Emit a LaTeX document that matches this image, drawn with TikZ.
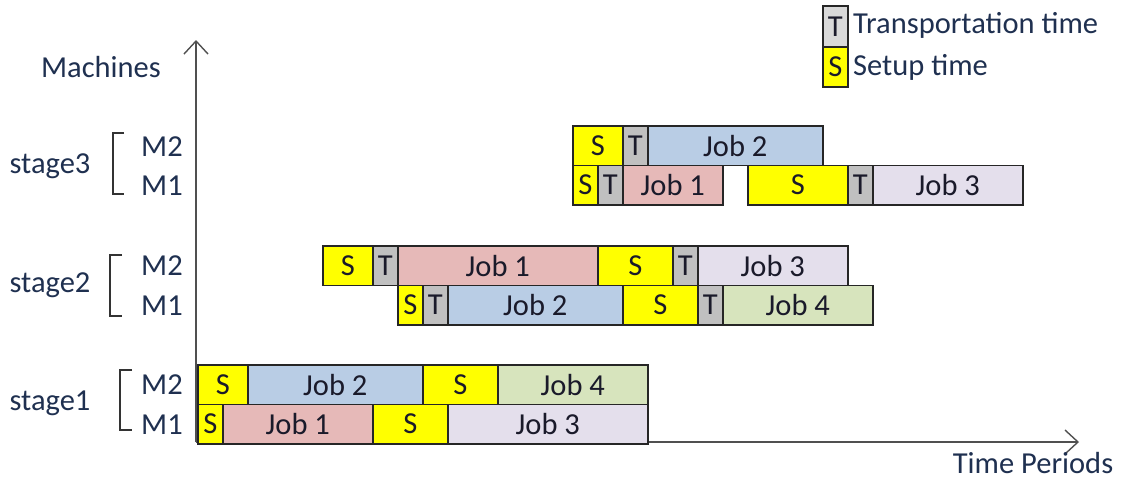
\documentclass[tikz,border=0pt]{standalone}
\usepackage{fontspec}
\setmainfont{Carlito}
\usetikzlibrary{arrows.meta}
\definecolor{sy}{HTML}{FFFF00}
\definecolor{tg}{HTML}{C0C0C0}
\definecolor{tgl}{HTML}{D9D9D9}
\definecolor{jone}{HTML}{E6B9B8}
\definecolor{jtwo}{HTML}{B9CDE5}
\definecolor{jthree}{HTML}{E4DFEC}
\definecolor{jfour}{HTML}{D7E4BD}
\definecolor{lbl}{HTML}{1F3050}
\definecolor{btxt}{HTML}{1A1A2A}
\definecolor{axc}{HTML}{505050}
\tikzset{
  gb/.style={draw=black!85, line width=1.6pt, minimum height=39.5pt, inner sep=0pt,
    anchor=north west, text=btxt, font=\fontsize{30.5}{34}\selectfont},
  sbox/.style={fill=sy},
  tbox/.style={fill=tg},
  jobone/.style={fill=jone},
  jobtwo/.style={fill=jtwo},
  jobthree/.style={fill=jthree},
  jobfour/.style={fill=jfour},
  lab/.style={text=lbl, font=\fontsize{30.5}{34}\selectfont, inner sep=0pt},
  axisline/.style={draw=axc, line width=1.6pt, -{Straight Barb[length=13pt,width=24pt,line width=1.4pt]}},
  brack/.style={draw=black!80, line width=1.4pt}
}
\newcommand{\gbox}[6]{\node[gb,#5,minimum width={(#3-#2)*1pt}] (#1) at (#2,#4) {#6};}
\begin{document}
\begin{tikzpicture}[x=1pt,y=-1pt]
\useasboundingbox (0,0) rectangle (1126,479);
% axes
\coordinate (o) at (196,442);
\coordinate (ytop) at (196,40);
\coordinate (xend) at (1079,442);
\draw[axisline] (o) -- (ytop);
\draw[axisline] (o) -- (xend);
\node[lab] (mach) at (101,67) {Machines};
\node[lab] (tp) at (1033,463) {Time Periods};
% legend
\node[gb,fill=tgl,minimum width=25pt,minimum height=41pt] (legT) at (822,5) {T};
\node[gb,sbox,minimum width=25pt,minimum height=40pt] (legS) at (822,46) {S};
\node[lab,anchor=west] (legTt) at (853,25) {Transportation time};
\node[lab,anchor=west] (legSt) at (853,67) {Setup time};
% stage labels
\node[lab] (st3) at (50,166) {stage3};
\node[lab] (st2) at (50,285) {stage2};
\node[lab] (st1) at (50,403) {stage1};
\node[lab] (s3m2) at (162,147) {M2};
\node[lab] (s3m1) at (162,186) {M1};
\node[lab] (s2m2) at (162,266) {M2};
\node[lab] (s2m1) at (162,306) {M1};
\node[lab] (s1m2) at (162,385) {M2};
\node[lab] (s1m1) at (162,425) {M1};
\draw[brack] (124,133) -- (113,133) -- (113,194) -- (124,194);
\draw[brack] (122,255) -- (110,255) -- (110,316) -- (122,316);
\draw[brack] (132,370) -- (120,370) -- (120,430) -- (132,430);
% stage 1
\gbox{a1}{197}{247}{364}{sbox}{S}
\gbox{a2}{247}{422}{364}{jobtwo}{Job 2}
\gbox{a3}{422}{497}{364}{sbox}{S}
\gbox{a4}{497}{647}{364}{jobfour}{Job 4}
\gbox{b1}{197}{222}{403.5}{sbox}{S}
\gbox{b2}{222}{372}{403.5}{jobone}{Job 1}
\gbox{b3}{372}{447}{403.5}{sbox}{S}
\gbox{b4}{447}{647}{403.5}{jobthree}{Job 3}
% stage 2
\gbox{c1}{322}{372}{245}{sbox}{S}
\gbox{c2}{372}{397}{245}{tbox}{T}
\gbox{c3}{397}{597}{245}{jobone}{Job 1}
\gbox{c4}{597}{672}{245}{sbox}{S}
\gbox{c5}{672}{697}{245}{tbox}{T}
\gbox{c6}{697}{847}{245}{jobthree}{Job 3}
\gbox{d1}{397}{422}{284.5}{sbox}{S}
\gbox{d2}{422}{447}{284.5}{tbox}{T}
\gbox{d3}{447}{622}{284.5}{jobtwo}{Job 2}
\gbox{d4}{622}{697}{284.5}{sbox}{S}
\gbox{d5}{697}{722}{284.5}{tbox}{T}
\gbox{d6}{722}{872}{284.5}{jobfour}{Job 4}
% stage 3
\gbox{e1}{572}{622}{125}{sbox}{S}
\gbox{e2}{622}{647}{125}{tbox}{T}
\gbox{e3}{647}{822}{125}{jobtwo}{Job 2}
\gbox{f1}{572}{597}{164.5}{sbox}{S}
\gbox{f2}{597}{622}{164.5}{tbox}{T}
\gbox{f3}{622}{722}{164.5}{jobone}{Job 1}
\gbox{f4}{747}{847}{164.5}{sbox}{S}
\gbox{f5}{847}{872}{164.5}{tbox}{T}
\gbox{f6}{872}{1022}{164.5}{jobthree}{Job 3}
\end{tikzpicture}
\end{document}
